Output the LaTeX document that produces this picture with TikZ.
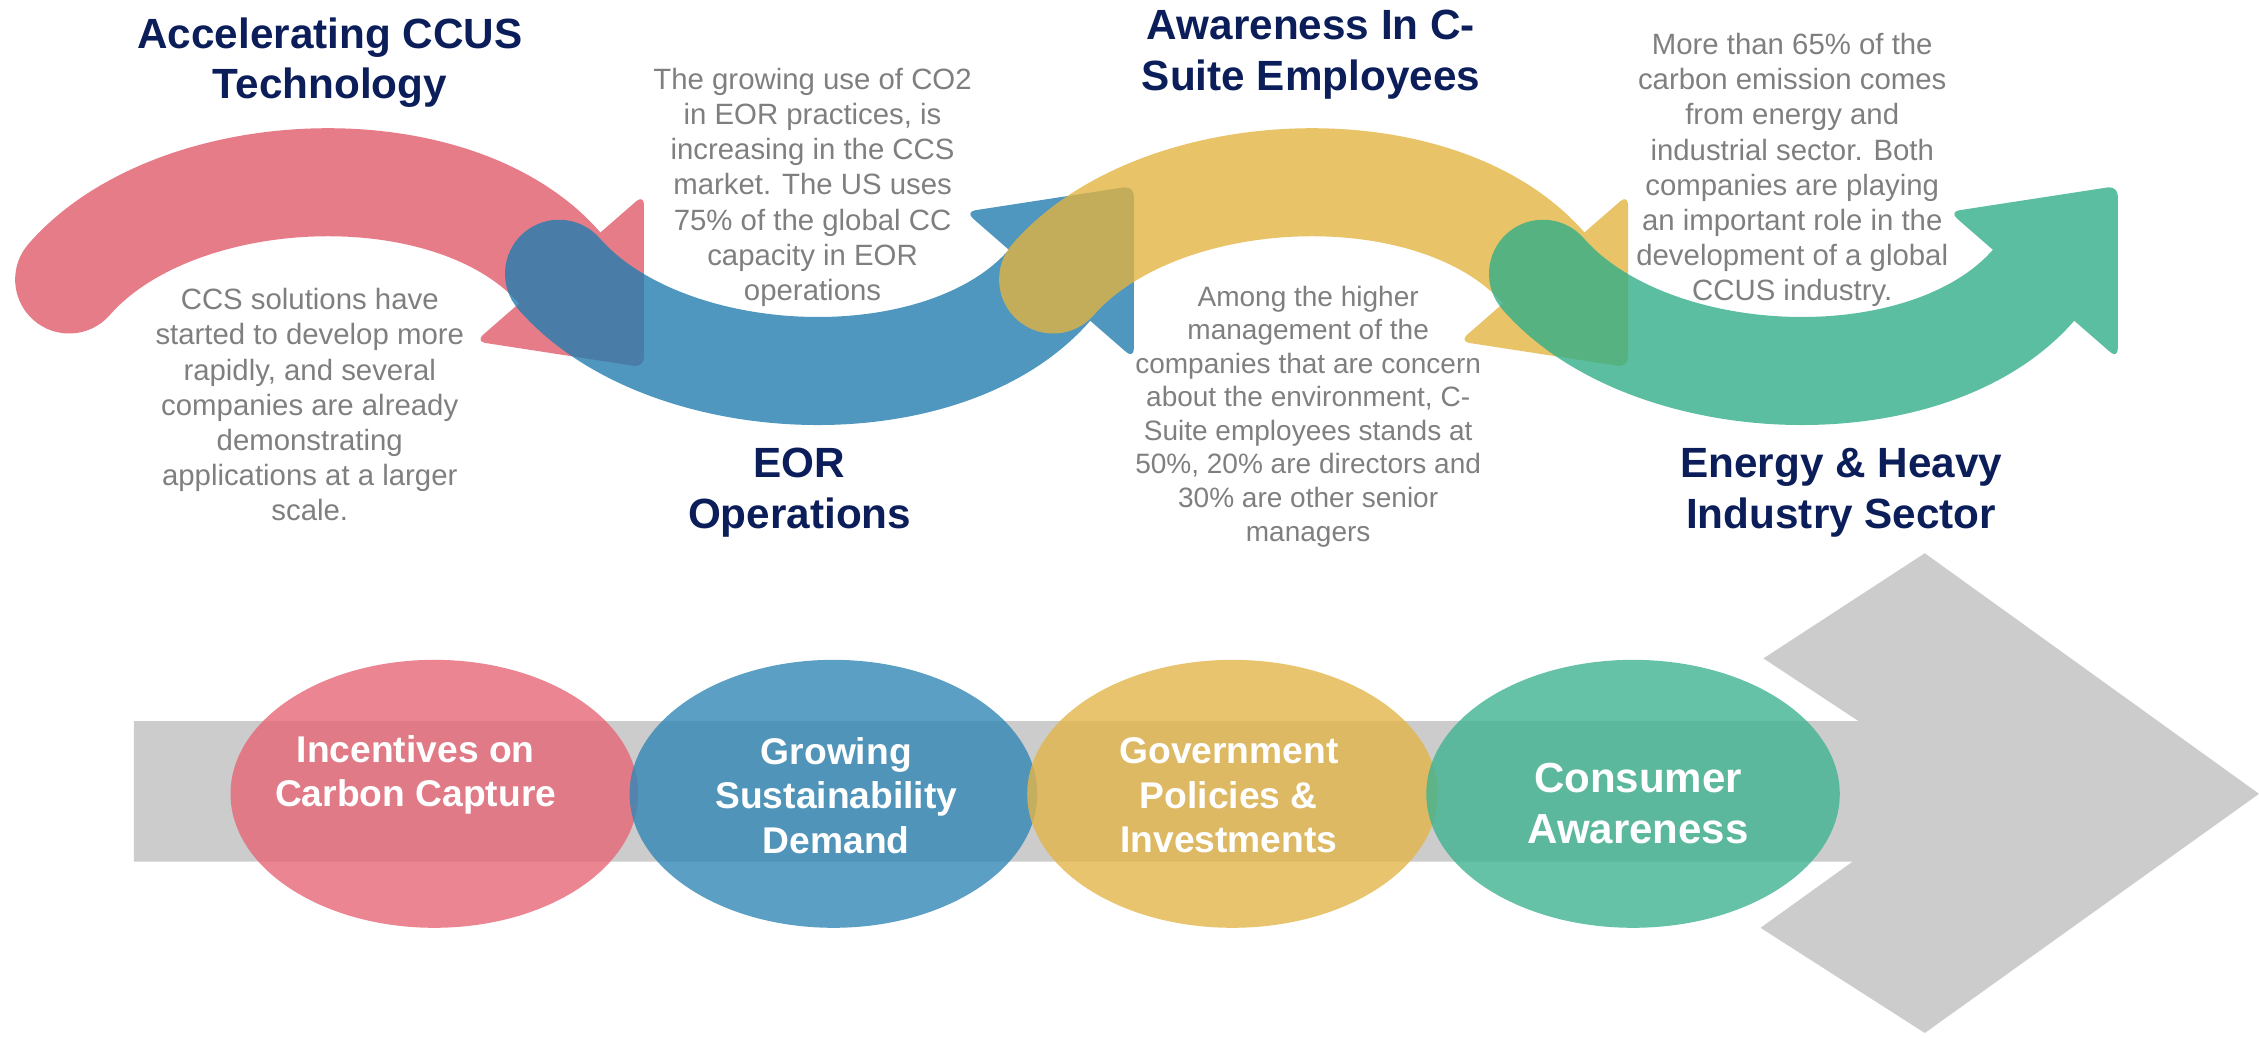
\documentclass[tikz,border=0pt]{standalone}
\usepackage{fontspec}
\setmainfont{Liberation Sans}
\usepackage{tikz}
\usetikzlibrary{positioning}

\definecolor{navyhead}{RGB}{12,30,90}
\definecolor{blurbgray}{RGB}{127,127,127}
\definecolor{bargray}{RGB}{204,204,204}
\definecolor{ccuspink}{RGB}{225,91,107}
\definecolor{ccusblue}{RGB}{35,125,175}
\definecolor{ccusyellow}{RGB}{226,180,65}
\definecolor{ccusgreen}{RGB}{51,174,136}
\definecolor{dotpink}{RGB}{229,102,118}
\definecolor{dotblue}{RGB}{50,135,181}
\definecolor{dotyellow}{RGB}{227,181,74}
\definecolor{dotgreen}{RGB}{64,179,144}

\tikzset{
  heading/.style={text=navyhead, align=center, font=\bfseries\fontsize{16.7}{19.9}\selectfont},
  blurb/.style={text=blurbgray, align=center, font=\fontsize{11.6}{13.9}\selectfont},
  driver/.style={text=white, align=center, font=\bfseries\fontsize{14.7}{17.6}\selectfont},
}

% one bent arrow: round tail, thick band, triangular head
\newcommand{\wavearrow}[1]{%
  \begin{scope}[transparency group, opacity=0.8]
    \draw[#1, line width=1.5cm, line cap=round]
      (48,194) .. controls (121.7,109.5) and (314.8,101.5) .. (388.5,186);
    \fill[#1, rounded corners=4pt] (447,255) -- (447,135) -- (330,237) -- cycle;
  \end{scope}}

\begin{document}
\begin{tikzpicture}[x=0.02cm, y=-0.02cm]
  \useasboundingbox (0,0) rectangle (1568,720);

  % wave of arrows, each one drawn over the one before
  \wavearrow{ccuspink}
  \begin{scope}[shift={(340,384)}, yscale=-1]
    \wavearrow{ccusblue}
  \end{scope}
  \begin{scope}[shift={(683,0)}]
    \wavearrow{ccusyellow}
  \end{scope}
  \begin{scope}[shift={(1023,384)}, yscale=-1]
    \wavearrow{ccusgreen}
  \end{scope}

  \node[heading] (techhead) at (229,43.5) {Accelerating CCUS\\Technology};
  \node[heading] (eorhead) at (555,342) {EOR\\Operations};
  \node[heading] (csuitehead) at (910,38) {Awareness In C-\\Suite Employees};
  \node[heading] (energyhead) at (1278,342) {Energy \& Heavy\\Industry Sector};

  \node[blurb] (techtext) at (215,281) {CCS solutions have\\started to develop more\\rapidly, and several\\companies are already\\demonstrating\\applications at a larger\\scale.};
  \node[blurb] (eortext) at (564,130) {The growing use of CO2\\in EOR practices, is\\increasing in the CCS\\market. The US uses\\75\% of the global CC\\capacity in EOR\\operations};
  \node[blurb, font=\fontsize{11.07}{13.26}\selectfont] (csuitetext) at (908,289) {Among the higher\\management of the\\companies that are concern\\about the environment, C-\\Suite employees stands at\\50\%, 20\% are directors and\\30\% are other senior\\managers};
  \node[blurb] (energytext) at (1244,118) {More than 65\% of the\\carbon emission comes\\from energy and\\industrial sector. Both\\companies are playing\\an important role in the\\development of a global\\CCUS industry.};

  % grey bar with its big chevron
  \fill[bargray] (93,500.5) -- (1290,500.5) -- (1224,457) -- (1336,384) -- (1568,551)
    -- (1336,717) -- (1222,644) -- (1286,598) -- (93,598) -- cycle;

  % drivers along the bar
  \fill[dotpink, opacity=0.8] (301.5,551) ellipse [x radius=141.5, y radius=93];
  \fill[dotblue, opacity=0.8] (578.5,551) ellipse [x radius=141.5, y radius=93];
  \fill[dotyellow, opacity=0.8] (855.5,551) ellipse [x radius=142.5, y radius=93];
  \fill[dotgreen, opacity=0.8] (1133.5,551) ellipse [x radius=143.5, y radius=93];

  \node[driver] (incent) at (288.5,538) {Incentives on\\Carbon Capture};
  \node[driver] (sustain) at (580.5,552) {Growing\\Sustainability\\Demand};
  \node[driver] (policy) at (853,552) {Government\\Policies \&\\Investments};
  \node[driver, font=\bfseries\fontsize{16.6}{20.2}\selectfont] (consumer) at (1137,558) {Consumer\\Awareness};
\end{tikzpicture}
\end{document}
